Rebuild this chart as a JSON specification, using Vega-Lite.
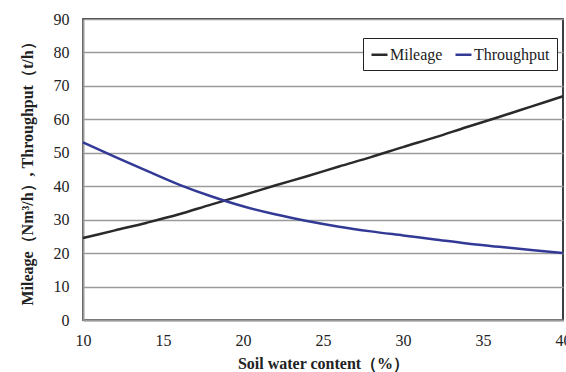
{
  "$schema": "https://vega.github.io/schema/vega-lite/v6.json",
  "width": 480,
  "height": 301,
  "autosize": {"type": "none"},
  "padding": {"left": 83, "top": 19, "right": 3, "bottom": 52},
  "background": "white",
  "config": {
    "view": {"stroke": "#000000", "strokeWidth": 1.5},
    "font": "Liberation Serif"
  },
  "data": {
    "values": [
      {"x": 10, "series": "Mileage", "v": 24.5},
      {"x": 12, "series": "Mileage", "v": 26.8},
      {"x": 14, "series": "Mileage", "v": 29.1},
      {"x": 16, "series": "Mileage", "v": 31.6},
      {"x": 18, "series": "Mileage", "v": 34.5},
      {"x": 20, "series": "Mileage", "v": 37.3},
      {"x": 22, "series": "Mileage", "v": 40.2},
      {"x": 24, "series": "Mileage", "v": 43.0},
      {"x": 26, "series": "Mileage", "v": 45.9},
      {"x": 28, "series": "Mileage", "v": 48.7},
      {"x": 30, "series": "Mileage", "v": 51.7},
      {"x": 32, "series": "Mileage", "v": 54.6},
      {"x": 34, "series": "Mileage", "v": 57.7},
      {"x": 36, "series": "Mileage", "v": 60.7},
      {"x": 38, "series": "Mileage", "v": 63.8},
      {"x": 40, "series": "Mileage", "v": 66.9},
      {"x": 10, "series": "Throughput", "v": 53.1},
      {"x": 12, "series": "Throughput", "v": 48.8},
      {"x": 14, "series": "Throughput", "v": 44.6},
      {"x": 16, "series": "Throughput", "v": 40.5},
      {"x": 18, "series": "Throughput", "v": 37.0},
      {"x": 20, "series": "Throughput", "v": 34.0},
      {"x": 22, "series": "Throughput", "v": 31.6},
      {"x": 24, "series": "Throughput", "v": 29.6},
      {"x": 26, "series": "Throughput", "v": 27.9},
      {"x": 28, "series": "Throughput", "v": 26.5},
      {"x": 30, "series": "Throughput", "v": 25.3},
      {"x": 32, "series": "Throughput", "v": 24.1},
      {"x": 34, "series": "Throughput", "v": 22.9},
      {"x": 36, "series": "Throughput", "v": 21.9},
      {"x": 38, "series": "Throughput", "v": 20.9},
      {"x": 40, "series": "Throughput", "v": 20.0}
    ]
  },
  "mark": {"type": "line", "interpolate": "monotone", "strokeWidth": 2.5},
  "encoding": {
    "x": {
      "field": "x",
      "type": "quantitative",
      "scale": {"domain": [10, 40], "nice": false},
      "axis": {
        "values": [10, 15, 20, 25, 30, 35, 40],
        "title": "Soil water content（%）",
        "titleFont": "Liberation Serif",
        "titleFontSize": 16,
        "titleFontWeight": "bold",
        "titleColor": "#222222",
        "titlePadding": 7,
        "labelFont": "Liberation Serif",
        "labelFontSize": 16,
        "labelColor": "#222222",
        "labelPadding": 12,
        "ticks": false,
        "grid": false,
        "domainColor": "#999999",
        "domainWidth": 2,
        "labelFlush": false
      }
    },
    "y": {
      "field": "v",
      "type": "quantitative",
      "scale": {"domain": [0, 90], "nice": false},
      "axis": {
        "values": [0, 10, 20, 30, 40, 50, 60, 70, 80, 90],
        "title": "Mileage（Nm³/h）, Throughput（t/h）",
        "titleFont": "Liberation Serif",
        "titleFontSize": 16,
        "titleFontWeight": "bold",
        "titleColor": "#222222",
        "titlePadding": 18,
        "labelFont": "Liberation Serif",
        "labelFontSize": 16,
        "labelColor": "#222222",
        "labelPadding": 14,
        "ticks": false,
        "grid": true,
        "gridColor": "#9a9a9a",
        "gridWidth": 1.5,
        "domainColor": "#999999",
        "domainWidth": 2
      }
    },
    "color": {
      "field": "series",
      "type": "nominal",
      "scale": {"domain": ["Mileage", "Throughput"], "range": ["#2a2a2a", "#333a96"]},
      "legend": {
        "title": null,
        "orient": "none",
        "legendX": 280,
        "legendY": 19,
        "direction": "horizontal",
        "symbolType": "stroke",
        "symbolSize": 256,
        "symbolStrokeWidth": 2.5,
        "labelFont": "Liberation Serif",
        "labelFontSize": 16,
        "labelColor": "#222222",
        "labelOffset": 1,
        "columnPadding": 7,
        "padding": 7,
        "strokeColor": "#222222",
        "fillColor": "white",
        "zindex": 1
      }
    }
  }
}
